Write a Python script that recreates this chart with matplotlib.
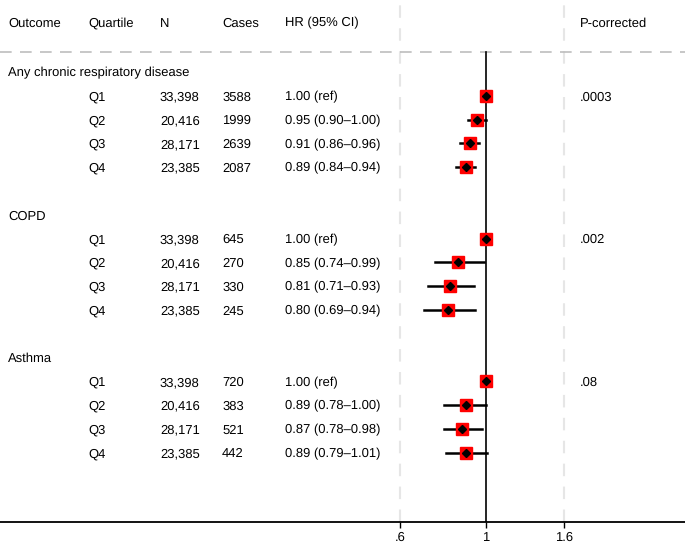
import numpy as np
import matplotlib.pyplot as plt
import matplotlib.transforms as mtransforms

plt.rcParams['font.family'] = ['Liberation Sans', 'DejaVu Sans']
plt.rcParams['text.hinting'] = 'no_hinting'
plt.rcParams['text.hinting_factor'] = 1

outcomes = ["Any chronic respiratory disease", "COPD", "Asthma"]
quartiles = ["Q1", "Q2", "Q3", "Q4"]
n_people = [33398, 20416, 28171, 23385]
cases = [[3588, 1999, 2639, 2087],
         [645, 270, 330, 245],
         [720, 383, 521, 442]]
hr = [[1.00, 0.95, 0.91, 0.89],
      [1.00, 0.85, 0.81, 0.80],
      [1.00, 0.89, 0.87, 0.89]]
lo = [[1.00, 0.90, 0.86, 0.84],
      [1.00, 0.74, 0.71, 0.69],
      [1.00, 0.78, 0.78, 0.79]]
hi = [[1.00, 1.00, 0.96, 0.94],
      [1.00, 0.99, 0.93, 0.94],
      [1.00, 1.00, 0.98, 1.01]]
p_corr = [".0003", ".002", ".08"]
headers = ["Outcome", "Quartile", "N", "Cases", "HR (95% CI)", "P-corrected"]
xticks = [0.6, 1, 1.6]
xticklabels = [".6", "1", "1.6"]

W, H = 685, 546
fig = plt.figure(figsize=(W / 100, H / 100), dpi=100)
ax_bottom = 522
ax = fig.add_axes([0, (H - ax_bottom) / H, 1, ax_bottom / H])

# log x scale: 1 at x=485.7 px, 167.5 px per log unit
px_per = 167.5
x1 = 485.7
ax.set_xscale('log')
ax.set_xlim(np.exp(-x1 / px_per), np.exp((W - x1) / px_per))
row_h = 23.8
top_row = 72
ax.set_ylim((ax_bottom - top_row) / row_h, -top_row / row_h)

fs = 9.3
for s in ['top', 'left', 'right']:
    ax.spines[s].set_visible(False)
ax.spines['bottom'].set_linewidth(1.3)
ax.set_yticks([])
ax.set_xticks(xticks)
ax.set_xticklabels(xticklabels, fontsize=fs)
ax.minorticks_off()
ax.tick_params(axis='x', length=4, width=1.0, pad=3)

# grid lines at .6 and 1.6
for xv in [0.6, 1.6]:
    ax.axvline(xv, color='#e6e6e6', lw=1.5, dashes=(6, 5), zorder=0)

header_y = (22 - top_row) / row_h
line_y = (52 - top_row) / row_h
ax.axhline(line_y, color='#bdbdbd', lw=1.2, dashes=(7, 5), zorder=1)
ax.plot([1, 1], [line_y, (ax_bottom - top_row) / row_h], color='black', lw=1.2, zorder=2)

# text sits on a baseline a few pixels below the row centre
base_off = 4.6 / row_h
trans = mtransforms.blended_transform_factory(ax.transAxes, ax.transData)
col_x = [8, 88, 160, 222, 285, 580]
kw = dict(transform=trans, fontsize=fs, va='baseline', ha='left')
for h, cx in zip(headers, col_x):
    ax.text(cx / W, header_y + base_off, h, **kw)

for g, name in enumerate(outcomes):
    base = g * 6
    ax.text(col_x[0] / W, base + base_off, name, **kw)
    for q in range(4):
        r = base + 1 + q
        ty = r + base_off
        ax.text(col_x[1] / W, ty, quartiles[q], **kw)
        ax.text(col_x[2] / W, ty, f"{n_people[q]:,}", **kw)
        ax.text(col_x[3] / W, ty, str(cases[g][q]), **kw)
        if q == 0:
            lab = f"{hr[g][q]:.2f} (ref)"
        else:
            lab = f"{hr[g][q]:.2f} ({lo[g][q]:.2f}\u2013{hi[g][q]:.2f})"
        ax.text(col_x[4] / W, ty, lab, **kw)
        if q == 0:
            ax.text(col_x[5] / W, ty, p_corr[g], **kw)
        if q > 0:
            ax.plot([lo[g][q], hi[g][q]], [r, r], color='black', lw=1.8, zorder=3)
        ax.plot(hr[g][q], r, marker='s', ms=8, color='#ff0000', mec='#ff0000', zorder=4)
        ax.plot(hr[g][q], r, marker='D', ms=4, color='black', zorder=5)

fig.savefig('out.png', dpi=100)
